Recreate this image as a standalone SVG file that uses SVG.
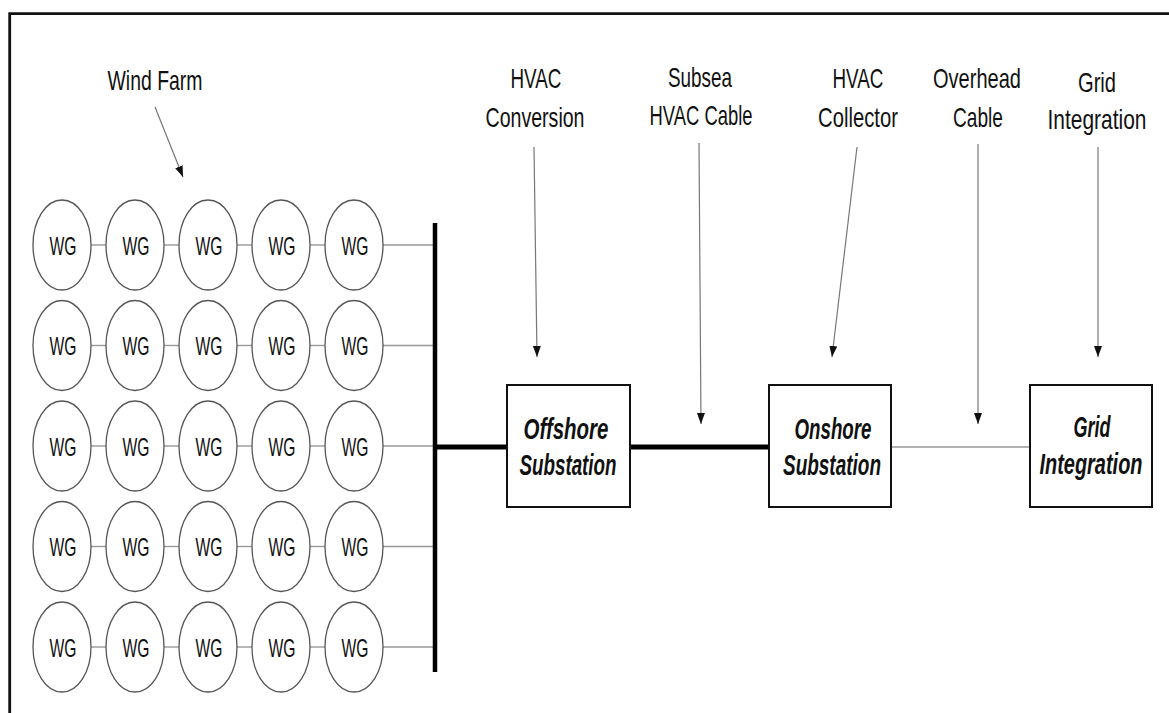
<svg xmlns="http://www.w3.org/2000/svg" width="1169" height="713" viewBox="0 0 1169 713">
<style>
.lbl{font-family:"Liberation Sans",Arial,sans-serif;font-size:28px;fill:#111;text-anchor:middle}
.box{font-family:"Liberation Sans",Arial,sans-serif;font-size:30px;font-weight:bold;font-style:italic;fill:#111;text-anchor:middle}
.wg{font-family:"Liberation Sans",Arial,sans-serif;font-size:25px;fill:#111;text-anchor:middle}
.ell{fill:#fff;stroke:#555;stroke-width:1.3}
.thin{stroke:#999;stroke-width:1.4;fill:none}
.thick{stroke:#000;stroke-width:5;fill:none}
.ptr{stroke:#777;stroke-width:1.2;fill:none;marker-end:url(#ah)}
.rect{fill:#fff;stroke:#111;stroke-width:2}
</style>
<defs>
<marker id="ah" markerUnits="userSpaceOnUse" markerWidth="12" markerHeight="10" refX="11" refY="4" orient="auto">
<path d="M0,0 L11,4 L0,8 Z" fill="#111"/>
</marker>
<g id="row">
<line class="thin" x1="91" y1="0" x2="107" y2="0"/>
<line class="thin" x1="164" y1="0" x2="180" y2="0"/>
<line class="thin" x1="237" y1="0" x2="253" y2="0"/>
<line class="thin" x1="310" y1="0" x2="326" y2="0"/>
<line class="thin" x1="383" y1="0" x2="434" y2="0"/>
<ellipse class="ell" cx="62" cy="0" rx="29" ry="45"/>
<ellipse class="ell" cx="135" cy="0" rx="29" ry="45"/>
<ellipse class="ell" cx="208" cy="0" rx="29" ry="45"/>
<ellipse class="ell" cx="281" cy="0" rx="29" ry="45"/>
<ellipse class="ell" cx="354" cy="0" rx="29" ry="45"/>
<text class="wg" x="63" y="9.5" textLength="27" lengthAdjust="spacingAndGlyphs">WG</text>
<text class="wg" x="136" y="9.5" textLength="27" lengthAdjust="spacingAndGlyphs">WG</text>
<text class="wg" x="209" y="9.5" textLength="27" lengthAdjust="spacingAndGlyphs">WG</text>
<text class="wg" x="282" y="9.5" textLength="27" lengthAdjust="spacingAndGlyphs">WG</text>
<text class="wg" x="355" y="9.5" textLength="27" lengthAdjust="spacingAndGlyphs">WG</text>
</g>
</defs>
<rect width="1169" height="713" fill="#fff"/>
<g id="frame">
<path d="M9.7,713 V13.7 H1169" fill="none" stroke="#111" stroke-width="2.8"/>
</g>
<g id="wind-farm">
<use href="#row" y="245"/>
<use href="#row" y="345.5"/>
<use href="#row" y="446"/>
<use href="#row" y="546.5"/>
<use href="#row" y="647"/>
</g>
<g id="connectors">
<line x1="435" y1="223" x2="435" y2="672" stroke="#000" stroke-width="4.5"/>
<line class="thick" x1="435" y1="447" x2="507" y2="447"/>
<line class="thick" x1="630" y1="447" x2="769" y2="447"/>
<line class="thin" x1="891" y1="447" x2="1030" y2="447"/>
<line class="ptr" x1="155" y1="107" x2="183" y2="177"/>
<line class="ptr" x1="534" y1="147" x2="537" y2="357"/>
<line class="ptr" x1="699" y1="143" x2="701" y2="424"/>
<line class="ptr" x1="857" y1="147" x2="832" y2="357"/>
<line class="ptr" x1="978" y1="144" x2="978" y2="424"/>
<line class="ptr" x1="1098" y1="147" x2="1098" y2="357"/>
</g>
<g id="labels" transform="scale(0.7 1)">
<text class="lbl" x="221.43" y="90" textLength="135.7" lengthAdjust="spacingAndGlyphs">Wind Farm</text>
<text class="lbl" x="765.71" y="88" textLength="72.86" lengthAdjust="spacingAndGlyphs">HVAC</text>
<text class="lbl" x="764.29" y="127" textLength="141.43" lengthAdjust="spacingAndGlyphs">Conversion</text>
<text class="lbl" x="1000" y="87" textLength="91.43" lengthAdjust="spacingAndGlyphs">Subsea</text>
<text class="lbl" x="1001.43" y="125" textLength="147.14" lengthAdjust="spacingAndGlyphs">HVAC Cable</text>
<text class="lbl" x="1225.71" y="88" textLength="72.86" lengthAdjust="spacingAndGlyphs">HVAC</text>
<text class="lbl" x="1225.71" y="127" textLength="114.29" lengthAdjust="spacingAndGlyphs">Collector</text>
<text class="lbl" x="1395.71" y="88" textLength="125.71" lengthAdjust="spacingAndGlyphs">Overhead</text>
<text class="lbl" x="1397.14" y="127" textLength="71.43" lengthAdjust="spacingAndGlyphs">Cable</text>
<text class="lbl" x="1567.14" y="92" textLength="54.29" lengthAdjust="spacingAndGlyphs">Grid</text>
<text class="lbl" x="1567.14" y="129" textLength="141.43" lengthAdjust="spacingAndGlyphs">Integration</text>
</g>
<g id="offshore-substation">
<rect class="rect" x="507" y="385" width="123" height="122"/>
<g transform="scale(0.65 1)">
<text class="box" x="870.77" y="439" textLength="130.77" lengthAdjust="spacingAndGlyphs">Offshore</text>
<text class="box" x="873.85" y="475" textLength="149.23" lengthAdjust="spacingAndGlyphs">Substation</text>
</g>
</g>
<g id="onshore-substation">
<rect class="rect" x="769" y="385" width="122" height="122"/>
<g transform="scale(0.65 1)">
<text class="box" x="1281.54" y="439" textLength="118.46" lengthAdjust="spacingAndGlyphs">Onshore</text>
<text class="box" x="1280" y="475" textLength="150.77" lengthAdjust="spacingAndGlyphs">Substation</text>
</g>
</g>
<g id="grid-integration">
<rect class="rect" x="1030" y="385" width="122" height="122"/>
<g transform="scale(0.65 1)">
<text class="box" x="1680" y="437" textLength="56.92" lengthAdjust="spacingAndGlyphs">Grid</text>
<text class="box" x="1678.46" y="474" textLength="158.46" lengthAdjust="spacingAndGlyphs">Integration</text>
</g>
</g>
</svg>
